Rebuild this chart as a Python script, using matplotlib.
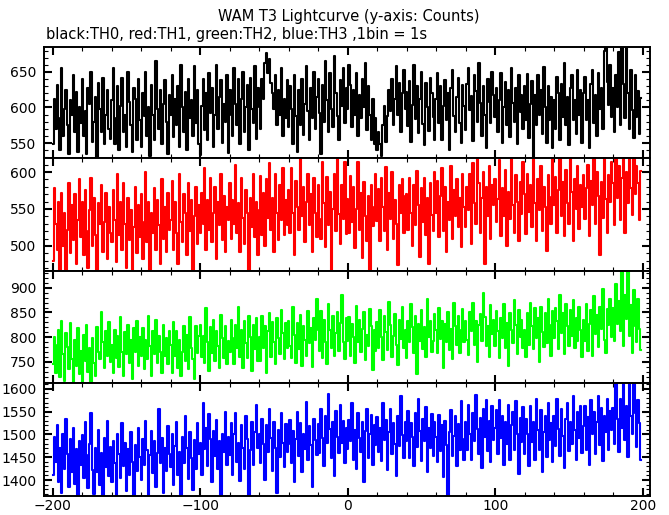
import numpy as np
import matplotlib
matplotlib.use('Agg')
import matplotlib.pyplot as plt
from matplotlib.ticker import MultipleLocator

# time bins, 1 bin = 1 s
t_start, t_stop = -200, 200

th0 = [
    548, 612, 570, 632, 585, 540, 655, 560, 598, 625, 575, 535, 610, 590, 645, 565, 622, 538, 600, 578,
    640, 560, 595, 535, 628, 605, 650, 552, 580, 615, 530, 635, 598, 565, 642, 548, 590, 625, 570, 556,
    610, 655, 548, 585, 630, 540, 602, 642, 566, 590, 545, 650, 608, 575, 538, 628, 612, 555, 640, 582,
    545, 620, 588, 650, 560, 600, 532, 632, 590, 555, 665, 598, 570, 625, 548, 605, 638, 580, 535, 618,
    590, 645, 558, 612, 575, 630, 545, 660, 600, 565, 622, 540, 640, 585, 610, 560, 658, 578, 625, 548,
    533, 602, 640, 568, 620, 555, 648, 592, 628, 545, 590, 660, 570, 615, 638, 550, 605, 580, 645, 536,
    625, 590, 560, 655, 605, 575, 640, 548, 612, 650, 565, 600, 632, 540, 642, 598, 578, 658, 556, 628,
    600, 570, 640, 612, 662, 676, 648, 668, 635, 620, 598, 645, 575, 625, 590, 655, 560, 612, 585, 638,
    572, 630, 598, 548, 645, 588, 538, 625, 575, 640, 562, 605, 658, 595, 555, 628, 585, 650, 570, 615,
    640, 592, 535, 632, 580, 665, 610, 565, 648, 598, 572, 672, 620, 588, 555, 638, 602, 655, 578, 628,
    598, 660, 632, 572, 625, 590, 648, 560, 618, 585, 640, 600, 662, 568, 630, 590, 555, 612, 548, 585,
    540, 565, 548, 532, 575, 602, 552, 588, 625, 595, 640, 575, 612, 658, 590, 635, 565, 620, 652, 598,
    622, 574, 637, 552, 604, 660, 584, 630, 564, 612, 650, 577, 547, 634, 600, 567, 642, 620, 587, 554,
    612, 648, 578, 630, 555, 602, 638, 582, 620, 540, 628, 652, 588, 565, 615, 642, 578, 550, 632, 602,
    568, 633, 656, 596, 616, 553, 646, 623, 580, 663, 606, 560, 630, 590, 543, 640, 608, 578, 650, 618,
    586, 628, 566, 610, 648, 550, 600, 636, 576, 624, 558, 656, 606, 580, 628, 548, 646, 593, 618, 570,
    630, 583, 647, 557, 605, 637, 530, 617, 575, 645, 590, 625, 563, 657, 600, 550, 630, 583, 615, 543,
    610, 570, 643, 621, 555, 633, 587, 663, 575, 615, 547, 627, 645, 583, 610, 563, 653, 590, 625, 550,
    620, 643, 583, 610, 543, 633, 653, 578, 618, 560, 648, 598, 628, 570, 680, 686, 636, 603, 660, 586,
    627, 565, 645, 600, 678, 575, 684, 633, 585, 686, 620, 570, 653, 597, 557, 645, 587, 623, 563, 613,
]

th1 = [
    480, 578, 530, 495, 560, 468, 572, 500, 545, 462, 522, 585, 490, 555, 508, 570, 475, 535, 590, 512,
    560, 488, 575, 520, 470, 548, 592, 500, 565, 515, 468, 558, 530, 582, 492, 532, 572, 482, 552, 518,
    505, 575, 535, 478, 598, 515, 560, 495, 585, 530, 470, 565, 508, 548, 460, 525, 580, 490, 555, 512,
    570, 482, 532, 600, 505, 560, 465, 545, 518, 578, 495, 562, 528, 476, 590, 510, 552, 492, 572, 522,
    535, 588, 495, 560, 518, 475, 598, 532, 505, 570, 545, 488, 585, 520, 562, 462, 540, 580, 502, 555,
    518, 572, 530, 605, 495, 562, 522, 592, 505, 545, 580, 482, 560, 528, 598, 508, 568, 492, 552, 535,
    585, 510, 562, 530, 610, 518, 558, 492, 592, 538, 502, 575, 545, 468, 565, 525, 598, 512, 560, 488,
    548, 595, 515, 572, 500, 590, 538, 612, 522, 565, 492, 598, 545, 508, 582, 535, 605, 515, 562, 528,
    575, 518, 605, 545, 488, 588, 552, 522, 618, 540, 580, 505, 560, 598, 528, 570, 492, 592, 545, 512,
    583, 536, 510, 613, 558, 498, 593, 528, 573, 468, 550, 598, 520, 628, 543, 503, 583, 536, 613, 516,
    564, 517, 594, 532, 580, 497, 550, 614, 522, 572, 484, 587, 540, 507, 567, 460, 582, 527, 552, 597,
    534, 577, 507, 592, 552, 520, 607, 494, 572, 537, 600, 510, 562, 530, 474, 582, 544, 590, 517, 567,
    570, 522, 592, 545, 500, 582, 528, 602, 555, 485, 578, 532, 592, 515, 565, 475, 585, 542, 520, 600,
    545, 588, 512, 568, 605, 520, 580, 492, 560, 535, 608, 510, 575, 540, 590, 525, 565, 498, 598, 552,
    525, 580, 548, 598, 502, 612, 558, 530, 625, 585, 518, 565, 600, 475, 580, 540, 608, 510, 582, 555,
    590, 533, 563, 616, 513, 578, 540, 603, 500, 573, 536, 626, 556, 518, 596, 560, 506, 586, 543, 613,
    570, 516, 598, 546, 583, 526, 620, 558, 506, 590, 548, 608, 520, 580, 553, 493, 596, 566, 530, 618,
    556, 593, 518, 576, 626, 540, 586, 513, 603, 558, 530, 618, 573, 506, 590, 550, 608, 523, 583, 553,
    596, 536, 578, 610, 513, 588, 556, 628, 530, 600, 568, 488, 586, 538, 618, 563, 518, 596, 560, 613,
    585, 528, 630, 565, 608, 535, 592, 625, 518, 600, 558, 620, 578, 542, 632, 570, 608, 585, 535, 602,
]

th2 = [
    745, 800, 728, 785, 815, 720, 832, 765, 712, 808, 780, 735, 828, 755, 705, 795, 742, 818, 725, 772,
    710, 805, 752, 825, 730, 778, 700, 798, 748, 722, 820, 770, 755, 850, 790, 738, 812, 762, 830, 750,
    785, 728, 815, 758, 802, 740, 840, 770, 722, 810, 765, 825, 748, 795, 715, 818, 770, 832, 742, 800,
    762, 818, 735, 795, 755, 842, 782, 722, 812, 765, 835, 748, 802, 770, 728, 825, 762, 798, 745, 812,
    785, 728, 830, 762, 812, 738, 795, 722, 770, 822, 752, 805, 735, 840, 778, 755, 715, 822, 768, 802,
    825, 760, 802, 748, 858, 790, 732, 820, 768, 835, 752, 812, 782, 738, 845, 798, 758, 822, 745, 792,
    770, 835, 798, 745, 825, 778, 862, 760, 815, 738, 832, 788, 758, 842, 800, 732, 825, 775, 838, 752,
    800, 752, 842, 778, 822, 728, 812, 848, 760, 830, 790, 745, 838, 798, 765, 855, 808, 755, 828, 778,
    832, 782, 758, 862, 805, 748, 828, 775, 845, 742, 822, 795, 762, 852, 788, 818, 740, 838, 795, 878,
    815, 772, 852, 758, 835, 790, 745, 868, 815, 778, 842, 762, 808, 850, 772, 828, 885, 790, 755, 838,
    792, 840, 762, 827, 800, 747, 864, 790, 834, 770, 817, 850, 754, 804, 782, 857, 822, 734, 814, 772,
    830, 777, 854, 800, 754, 842, 810, 774, 872, 824, 760, 802, 847, 784, 744, 834, 797, 862, 777, 814,
    757, 833, 790, 867, 820, 767, 843, 725, 827, 793, 855, 775, 820, 760, 877, 800, 833, 770, 793, 847,
    815, 767, 860, 797, 833, 737, 827, 790, 850, 773, 817, 755, 870, 823, 785, 843, 767, 815, 857, 790,
    833, 795, 763, 850, 813, 870, 785, 833, 750, 825, 847, 793, 890, 840, 783, 823, 760, 865, 807, 835,
    782, 852, 812, 758, 838, 798, 868, 778, 828, 742, 848, 815, 788, 875, 825, 765, 855, 800, 835, 778,
    815, 760, 848, 785, 870, 822, 775, 858, 798, 838, 750, 862, 810, 780, 848, 788, 878, 825, 762, 852,
    798, 860, 832, 775, 885, 808, 848, 765, 868, 822, 782, 855, 802, 875, 778, 838, 792, 862, 815, 760,
    834, 792, 867, 772, 827, 854, 762, 884, 807, 844, 780, 862, 817, 897, 794, 767, 857, 824, 877, 800,
    858, 793, 908, 826, 873, 813, 936, 783, 886, 836, 940, 803, 866, 768, 896, 823, 790, 878, 816, 773,
]

th3 = [
    1410, 1495, 1440, 1520, 1395, 1470, 1372, 1500, 1425, 1535, 1458, 1385, 1490, 1418, 1515, 1392, 1468, 1365, 1485, 1432,
    1498, 1405, 1528, 1455, 1382, 1480, 1548, 1422, 1370, 1470, 1418, 1510, 1390, 1460, 1360, 1492, 1428, 1530, 1408, 1472,
    1395, 1485, 1438, 1362, 1502, 1458, 1405, 1525, 1430, 1482, 1375, 1468, 1412, 1505, 1440, 1355, 1478, 1420, 1515, 1450,
    1400, 1490, 1432, 1530, 1465, 1368, 1455, 1508, 1415, 1485, 1385, 1460, 1555, 1438, 1492, 1372, 1470, 1420, 1518, 1458,
    1428, 1502, 1390, 1475, 1528, 1412, 1462, 1365, 1495, 1438, 1540, 1470, 1402, 1505, 1448, 1378, 1488, 1425, 1525, 1458,
    1482, 1412, 1570, 1468, 1515, 1430, 1545, 1490, 1395, 1508, 1452, 1532, 1425, 1485, 1368, 1502, 1462, 1550, 1432, 1495,
    1455, 1525, 1410, 1500, 1548, 1440, 1482, 1398, 1520, 1470, 1425, 1540, 1490, 1358, 1465, 1528, 1432, 1505, 1565, 1470,
    1500, 1438, 1535, 1480, 1400, 1520, 1462, 1555, 1492, 1420, 1528, 1470, 1372, 1510, 1450, 1548, 1482, 1428, 1522, 1462,
    1480, 1532, 1438, 1508, 1395, 1490, 1550, 1452, 1525, 1418, 1502, 1468, 1572, 1445, 1518, 1478, 1385, 1535, 1488, 1455,
    1522, 1460, 1555, 1492, 1430, 1540, 1482, 1588, 1512, 1448, 1528, 1408, 1552, 1495, 1460, 1565, 1482, 1530, 1438, 1515,
    1468, 1532, 1485, 1570, 1445, 1510, 1425, 1548, 1492, 1462, 1528, 1395, 1508, 1555, 1448, 1502, 1542, 1432, 1520, 1478,
    1538, 1462, 1515, 1442, 1570, 1488, 1532, 1422, 1505, 1555, 1458, 1525, 1480, 1408, 1540, 1475, 1585, 1498, 1448, 1528,
    1485, 1552, 1448, 1525, 1495, 1430, 1548, 1472, 1578, 1508, 1442, 1535, 1485, 1560, 1418, 1515, 1470, 1545, 1452, 1528,
    1495, 1440, 1543, 1463, 1520, 1407, 1530, 1477, 1362, 1505, 1553, 1453, 1497, 1540, 1430, 1523, 1467, 1573, 1490, 1445,
    1527, 1467, 1565, 1500, 1443, 1547, 1485, 1587, 1513, 1457, 1537, 1427, 1555, 1495, 1575, 1463, 1530, 1440, 1563, 1487,
    1515, 1553, 1457, 1575, 1493, 1540, 1433, 1527, 1480, 1565, 1445, 1520, 1550, 1465, 1573, 1500, 1413, 1537, 1483, 1560,
    1457, 1535, 1500, 1430, 1563, 1483, 1527, 1443, 1577, 1510, 1467, 1553, 1417, 1505, 1540, 1450, 1570, 1487, 1525, 1440,
    1540, 1475, 1577, 1513, 1453, 1555, 1497, 1427, 1533, 1570, 1463, 1527, 1480, 1585, 1510, 1443, 1550, 1493, 1563, 1460,
    1518, 1562, 1465, 1538, 1432, 1575, 1500, 1550, 1458, 1528, 1585, 1478, 1558, 1442, 1540, 1505, 1578, 1465, 1552, 1510,
    1558, 1480, 1625, 1535, 1462, 1578, 1515, 1630, 1488, 1562, 1450, 1618, 1540, 1500, 1622, 1548, 1472, 1575, 1525, 1445,
]

curves = [th0, th1, th2, th3]
colors = ['black', '#ff0000', '#00ff00', '#0000ff']
ylims = [(529, 685), (466, 619), (707, 934), (1365, 1613)]

t = np.arange(t_start, t_stop)

fig = plt.figure(figsize=(6.69, 5.15), dpi=100)
edges = [47, 158, 271, 383, 496]   # panel borders in px from top
H = 515.0
left, right = 44 / 669, 650 / 669

for i, (y, col, yl) in enumerate(zip(curves, colors, ylims)):
    top, bot = edges[i], edges[i + 1]
    ax = fig.add_axes([left, 1 - bot / H, right - left, (bot - top) / H])
    ax.plot(t, y, color=col, lw=1.5, drawstyle='steps-mid')
    ax.set_xlim(-206, 205)
    ax.set_ylim(*yl)
    ax.xaxis.set_major_locator(MultipleLocator(100))
    ax.xaxis.set_minor_locator(MultipleLocator(20))
    ax.yaxis.set_major_locator(MultipleLocator(50))
    ax.yaxis.set_minor_locator(MultipleLocator(10))
    ax.tick_params(which='both', direction='in', top=True, right=True, labelsize=10)
    ax.tick_params(which='major', length=6, width=1.5)
    ax.tick_params(which='minor', length=3, width=0.8)
    ax.tick_params(axis='y', pad=5.5)
    for s in ax.spines.values():
        s.set_linewidth(1.4)
    if i < 3:
        ax.tick_params(labelbottom=False)
    else:
        ax.tick_params(axis='x', pad=2)

fig.text(0.522, 1 - 17 / H, 'WAM T3 Lightcurve (y-axis: Counts)', ha='center', va='center', fontsize=10.5)
fig.text(46 / 669, 1 - 35 / H, 'black:TH0, red:TH1, green:TH2, blue:TH3 ,1bin = 1s',
         ha='left', va='center', fontsize=10.5)

fig.savefig('out.png', dpi=100)
